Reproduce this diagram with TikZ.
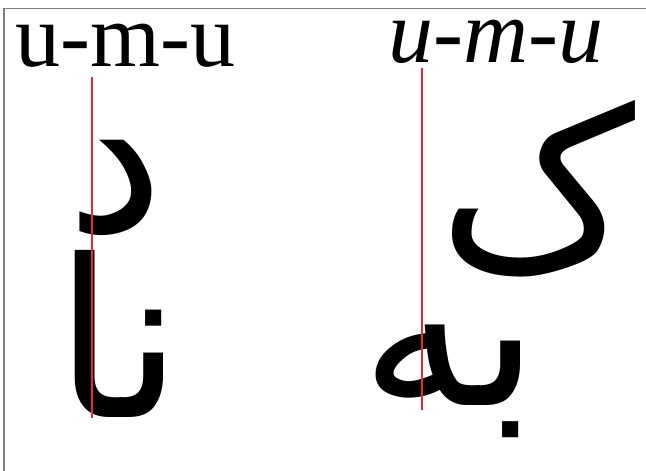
\documentclass[tikz,border=0pt]{standalone}
\usepackage{fontspec}
\setmainfont{Liberation Serif}
\newfontfamily\arabicfont[Script=Arabic]{DejaVu Sans}
\TeXXeTstate=1
\usepackage{xcolor}
\usepackage{tikz}
\definecolor{guidered}{RGB}{232,40,56}
\tikzset{
  latin/.style={font=\fontsize{90}{90}\selectfont, inner sep=0pt, anchor=base west},
  glyph/.style={font=\fontsize{220}{220}\selectfont\arabicfont, inner sep=0pt, anchor=base east}
}

\begin{document}
\begin{tikzpicture}[x=1pt, y=-1pt]
\useasboundingbox (0,0) rectangle (646,471);
\draw[gray, line width=1.2pt] (4,471) -- (4,8.5) -- (646,8.5);
\node[latin] (upright) at (15,66) {u-m-u};
\node[latin] (slanted) at (388,62) {\itshape u-m-u};
% upright column
\node[glyph] (dal) at (165,231) {\beginR د\endR};
\node[glyph] (nunalif) at (183,417) {\beginR نا\endR};
% slanted column
\node[glyph] (kaf) at (636,267) {\beginR ک\endR};
\node[glyph] (beheh) at (540,405) {\beginR به\endR};
\draw[guidered, line width=1.5pt] (92,77) -- (92,418);
\draw[guidered, line width=1.5pt] (422,68) -- (422,410);
\end{tikzpicture}
\end{document}
